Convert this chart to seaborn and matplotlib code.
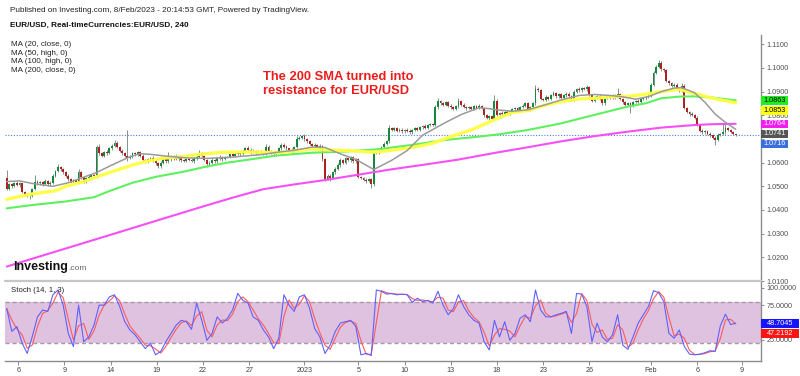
import numpy as np
import pandas as pd
import matplotlib
matplotlib.use("Agg")
import matplotlib.pyplot as plt
import seaborn as sns
from matplotlib.patches import Rectangle
from matplotlib.lines import Line2D
from matplotlib.transforms import blended_transform_factory

sns.set_theme(style="white")
plt.rcParams['font.family'] = ['Liberation Sans', 'DejaVu Sans']

# ---------------- data (prices in pips above 1.0000) ----------------
first_open = 534
close_pips = [
    490, 510, 500, 515, 505, 512, 478, 465, 460, 458,
    490, 520, 512, 518, 510, 522, 508, 515, 545, 565,
    580, 572, 560, 545, 530, 520, 525, 518, 560, 540,
    520, 535, 540, 548, 545, 665, 640, 630, 645, 640,
    660, 672, 685, 665, 650, 640, 630, 620, 625, 640,
    635, 645, 630, 610, 605, 615, 620, 608, 598, 585,
    600, 615, 605, 625, 615, 628, 615, 622, 610, 608,
    615, 612, 605, 618, 625, 640, 630, 610, 595, 600,
    612, 605, 618, 625, 615, 622, 625, 635, 630, 638,
    642, 635, 648, 660, 655, 645, 650, 640, 648, 642,
    638, 668, 650, 640, 635, 645, 660, 675, 668, 660,
    655, 648, 665, 700, 705, 712, 700, 690, 680, 670,
    675, 665, 670, 615, 532, 545, 535, 560, 575, 590,
    612, 600, 618, 610, 622, 605, 615, 540, 535, 528,
    522, 530, 508, 640, 645, 650, 665, 680, 690, 745,
    738, 745, 735, 740, 732, 740, 735, 728, 738, 745,
    740, 750, 755, 748, 758, 762, 760, 835, 860, 850,
    845, 855, 840, 835, 828, 838, 860, 845, 835, 830,
    835, 828, 838, 832, 840, 830, 800, 790, 795, 785,
    862, 800, 810, 805, 815, 808, 820, 825, 830, 822,
    835, 840, 850, 825, 835, 850, 912, 905, 870, 865,
    878, 870, 885, 895, 880, 890, 875, 885, 892, 880,
    866, 900, 912, 905, 915, 910, 918, 885, 862, 875,
    882, 870, 850, 872, 880, 875, 885, 878, 890, 868,
    855, 845, 850, 842, 855, 860, 858, 868, 872, 878,
    882, 930, 980, 1005, 1020, 995, 990, 945, 935, 925,
    930, 910, 905, 925, 830, 815, 805, 800, 790, 760,
    735, 728, 732, 722, 715, 705, 695, 718, 722, 728,
    745, 738, 728, 720, 716,
]
up_wick = [
    35, 6, 5, 4, 7, 5, 4, 3, 6, 4,
    5, 28, 6, 5, 4, 7, 5, 6, 8, 5,
    15, 6, 5, 4, 7, 5, 6, 4, 15, 6,
    5, 4, 6, 5, 4, 10, 12, 6, 5, 7,
    6, 5, 10, 8, 5, 6, 4, 108, 6, 7,
    5, 6, 4, 5, 6, 5, 4, 7, 5, 6,
    5, 6, 4, 22, 5, 6, 7, 5, 4, 6,
    5, 4, 6, 5, 7, 15, 5, 4, 6, 5,
    6, 5, 4, 7, 5, 6, 4, 5, 6, 5,
    4, 6, 5, 7, 11, 5, 6, 4, 5, 6,
    5, 9, 6, 5, 4, 6, 5, 10, 6, 5,
    4, 6, 5, 12, 6, 5, 7, 5, 6, 4,
    6, 5, 7, 6, 5, 6, 5, 6, 5, 7,
    6, 5, 7, 6, 5, 6, 5, 6, 5, 4,
    6, 5, 4, 10, 6, 5, 7, 6, 5, 15,
    6, 5, 7, 5, 6, 4, 5, 6, 5, 7,
    5, 6, 4, 7, 5, 6, 5, 10, 12, 6,
    5, 7, 5, 6, 4, 6, 15, 5, 6, 4,
    6, 5, 7, 5, 6, 5, 6, 5, 6, 5,
    25, 6, 5, 7, 5, 6, 4, 6, 5, 7,
    5, 6, 7, 5, 6, 5, 16, 8, 6, 5,
    7, 5, 6, 8, 5, 6, 5, 7, 6, 5,
    6, 7, 5, 6, 5, 6, 10, 5, 6, 7,
    5, 6, 5, 7, 5, 6, 5, 6, 24, 5,
    6, 5, 7, 5, 6, 5, 7, 5, 6, 5,
    6, 7, 8, 8, 14, 9, 6, 7, 5, 6,
    5, 6, 7, 10, 8, 6, 5, 7, 5, 6,
    5, 6, 7, 5, 6, 5, 6, 8, 5, 38,
    21, 6, 5, 4, 3,
]
dn_wick = [
    6, 5, 6, 4, 5, 6, 5, 7, 6, 10,
    4, 5, 6, 5, 7, 4, 6, 5, 4, 6,
    5, 6, 7, 5, 6, 5, 4, 6, 5, 7,
    6, 5, 4, 6, 5, 8, 6, 7, 5, 6,
    5, 6, 4, 5, 6, 7, 5, 15, 6, 5,
    6, 5, 7, 6, 5, 6, 7, 5, 6, 7,
    6, 5, 7, 5, 6, 4, 5, 6, 7, 5,
    6, 5, 4, 6, 5, 6, 7, 5, 15, 6,
    5, 6, 7, 5, 6, 5, 4, 6, 5, 7,
    5, 6, 4, 5, 6, 7, 5, 6, 5, 4,
    6, 5, 7, 5, 6, 5, 6, 5, 7, 6,
    5, 6, 4, 5, 6, 5, 7, 6, 5, 6,
    5, 6, 5, 7, 10, 6, 11, 5, 6, 5,
    7, 5, 6, 5, 6, 7, 5, 6, 5, 7,
    6, 5, 14, 6, 5, 7, 6, 5, 6, 5,
    6, 5, 7, 5, 6, 5, 7, 6, 5, 6,
    5, 6, 7, 5, 6, 5, 6, 5, 7, 6,
    5, 6, 5, 7, 6, 5, 6, 7, 5, 6,
    5, 7, 6, 5, 6, 5, 7, 6, 12, 6,
    6, 5, 7, 6, 5, 6, 5, 7, 6, 5,
    6, 5, 6, 7, 5, 6, 5, 6, 7, 5,
    6, 5, 7, 5, 6, 5, 6, 5, 7, 6,
    5, 6, 5, 7, 6, 5, 6, 5, 7, 6,
    5, 6, 7, 6, 5, 6, 5, 7, 6, 5,
    6, 5, 7, 33, 6, 5, 7, 6, 5, 6,
    5, 6, 7, 5, 6, 7, 5, 6, 7, 5,
    6, 5, 7, 6, 5, 6, 7, 5, 6, 5,
    6, 5, 7, 6, 5, 6, 20, 5, 6, 5,
    6, 5, 4, 5, 3,
]

# moving averages (candle index, pips above 1.0000)
ma20_idx = [0, 5, 10, 18, 24, 29, 35, 40, 44, 48, 52, 56, 62, 70, 78, 86, 93, 100, 106, 112,
            119, 124, 130, 136, 143, 150, 156, 162, 166, 171, 177, 184, 188, 191, 197, 203,
            210, 216, 223, 229, 236, 240, 245, 250, 255, 260, 263, 268, 272, 276, 280, 284]
ma20_val = [520, 523, 512, 500, 515, 535, 558, 585, 605, 625, 638, 635, 628, 620, 618, 622, 628, 635, 645, 652,
            666, 664, 637, 614, 571, 610, 651, 716, 740, 770, 803, 832, 828, 823, 817, 823,
            845, 865, 884, 888, 883, 878, 868, 879, 900, 915, 917, 895, 855, 805, 770, 741]
ma50_idx = [0, 5, 10, 19, 23, 30, 35, 43, 49, 55, 61, 69, 75, 83, 88, 95, 106, 119, 125, 134, 143,
            151, 158, 166, 173, 181, 186, 190, 197, 203, 210, 216, 223, 229, 236, 242, 249, 255,
            262, 268, 275, 284]
ma50_val = [445, 457, 468, 481, 500, 520, 540, 569, 590, 607, 619, 626, 635, 643, 645, 645, 642, 658, 654, 650, 644,
            654, 664, 682, 710, 738, 762, 781, 812, 820, 844, 858, 869, 872, 879, 880, 889, 900,
            910, 892, 872, 853]
ma100_idx = [0, 10, 23, 34, 40, 49, 58, 69, 78, 86, 95, 105, 119, 132, 145, 158, 171, 184, 192, 203,
             216, 229, 242, 249, 255, 262, 268, 275, 284]
ma100_val = [407, 421, 436, 454, 480, 515, 540, 562, 584, 600, 614, 630, 642, 647, 657, 675, 696, 710, 720, 738,
             766, 802, 837, 851, 872, 879, 880, 875, 863]
ma200_idx = [0, 12, 25, 38, 50, 62, 75, 88, 100, 112, 125, 138, 150, 163, 176, 190, 203, 216, 229, 242,
             255, 268, 276, 284]
ma200_val = [161, 201, 244, 287, 327, 367, 410, 452, 488, 508, 528, 551, 572, 592, 613, 641, 665, 690, 712, 731,
             748, 759, 763, 764]

# stochastic %K read every second candle
stoch_k = [70, 37, 44, 20, 5, 30, 58, 68, 66, 90, 97, 75, 34, 15, 75, 22, 29, 46, 75, 75,
           87, 90, 73, 51, 39, 32, 22, 12, 20, 3, 8, 22, 34, 46, 53, 51, 40, 78, 53, 24,
           34, 58, 49, 56, 68, 92, 82, 78, 58, 53, 39, 29, 12, 27, 90, 75, 66, 87, 90, 70,
           41, 29, 5, 17, 37, 49, 51, 53, 44, 3, 5, 2, 97, 95, 91, 92, 90, 91, 90, 79,
           85, 80, 82, 78, 95, 75, 61, 70, 90, 73, 61, 53, 49, 22, 10, 53, 29, 51, 24, 34,
           56, 61, 51, 97, 68, 58, 58, 61, 63, 66, 34, 92, 91, 73, 22, 49, 29, 22, 32, 61,
           17, 11, 29, 49, 61, 73, 96, 93, 80, 34, 27, 39, 15, 4, 3, 4, 6, 9, 8, 45,
           62, 47, 48.7]

tick_pos = [4.5, 22.5, 40.5, 58.5, 76.5, 94.5, 116, 137, 155, 173, 191, 209, 227, 251, 269, 286.5]
tick_lab = ['6', '9', '14', '19', '22', '27', '2023', '5', '10', '13', '18', '23', '26', 'Feb', '6', '9']

price_ticks = [1.01, 1.02, 1.03, 1.04, 1.05, 1.06, 1.07, 1.08, 1.09, 1.10, 1.11]
price_labels = [1.0863, 1.0853, 1.0764, 1.0741, 1.0716]
price_label_bg = ['#1fef1f', '#ffff10', '#f21ff2', '#555555', '#3b6fe0']
price_label_fg = ['black', 'black', 'white', 'white', 'white']
stoch_labels = [48.7045, 47.2192]
stoch_label_bg = ['#1414ff', '#ff1414']

# ---------------- derived ----------------
close = (10000 + np.array(close_pips, dtype=float)) / 10000
open_ = np.r_[(10000 + first_open) / 10000, close[:-1]]
top = np.maximum(open_, close)
bot = np.minimum(open_, close)
high = top + np.array(up_wick) / 10000
low = bot - np.array(dn_wick) / 10000
idx = np.arange(len(close))
is_up = close >= open_

W, H = 800, 376
fig = plt.figure(figsize=(W / 100, H / 100), dpi=100)
fig.patch.set_facecolor('white')

def fx(px):
    return px / W

def fy(py):
    return 1 - py / H

ax = fig.add_axes([fx(5), fy(281), fx(756), 246 / H])
ax2 = fig.add_axes([fx(5), fy(361), fx(756), 79 / H])
XL = (-0.66, 293.85)
PX_PER_PRICE = 2367.0
PX_PER_STOCH = 0.69

# ---------------- price panel ----------------
ax.set_facecolor('white')
ax.set_xlim(*XL)
ax.set_ylim(1.0100, 1.11393)

ax.axhline(close[-1], color='#4f7de8', lw=0.8, ls=(0, (1, 1.5)), zorder=1)

GREEN, RED = '#17873d', '#b02020'
ax.vlines(idx, low, high, colors='#7f9487', lw=0.7, zorder=2)
ax.bar(idx, np.maximum(top - bot, 0.00008), bottom=bot, width=0.72,
       color=np.where(is_up, GREEN, RED), linewidth=0, zorder=3)

def ma_line(i, v, color, lw, alpha=1.0):
    sns.lineplot(x=np.array(i), y=(10000 + np.array(v, dtype=float)) / 10000, ax=ax,
                 color=color, linewidth=lw, alpha=alpha, sort=False, zorder=4)

ma_line(ma200_idx, ma200_val, '#f550f5', 1.5)
ma_line(ma100_idx, ma100_val, '#5ef05e', 1.5)
ma_line(ma50_idx, ma50_val, '#ffff40', 2.4, 0.95)
ma_line(ma20_idx, ma20_val, '#9a9a9a', 1.1)

for s in ['top', 'left', 'bottom']:
    ax.spines[s].set_visible(False)
ax.spines['right'].set_color('#8c8c8c')
ax.spines['right'].set_linewidth(1.0)
ax.set_xticks([])
ax.yaxis.tick_right()
ax.set_yticks(price_ticks)
# the 1.0700 label sits behind the value boxes in the reference
ax.set_yticklabels(['' if abs(v - 1.07) < 1e-9 else f'{v:.4f}' for v in price_ticks])
ax.tick_params(axis='y', labelsize=5.2, labelcolor='#505050', color='#8c8c8c',
               length=2.5, width=0.7, pad=1.5)
ax.set_xlabel('')
ax.set_ylabel('')

def side_labels(a, values, bgs, fgs, px_per_unit, width_px, textsize, axw=756):
    trans = blended_transform_factory(a.transAxes, a.transData)
    h = 8.6 / px_per_unit
    gap = 10.0 / px_per_unit
    wf = width_px / axw
    prev = None
    for v, bg, fg in sorted(zip(values, bgs, fgs), key=lambda t: -t[0]):
        y = v if prev is None else min(v, prev - gap)
        prev = y
        a.add_patch(Rectangle((1.0, y - h / 2), wf, h, transform=trans,
                              facecolor=bg, edgecolor='none', clip_on=False, zorder=6))
        a.text(1.0 + wf / 2, y, f'{v:.4f}', transform=trans, ha='center',
               va='center', fontsize=textsize, color=fg, zorder=7, clip_on=False)

side_labels(ax, price_labels, price_label_bg, price_label_fg, PX_PER_PRICE, 27, 5.2)

# ---------------- stochastic panel ----------------
k = pd.Series(stoch_k, dtype=float)
d = k.rolling(2, min_periods=1).mean()
kx = 2 * np.arange(len(k))

ax2.set_facecolor('white')
ax2.set_xlim(*XL)
ax2.set_ylim(-5.94, 108.55)
ax2.axhspan(20, 80, color='#dfc2df', lw=0, zorder=0)
for lvl in (20, 80):
    ax2.axhline(lvl, color='#a898a8', lw=1.0, ls=(0, (3, 2)), zorder=1)
sns.lineplot(x=kx, y=d.values, ax=ax2, color='#ff5a5a', linewidth=0.8, sort=False, zorder=3)
sns.lineplot(x=kx, y=k.values, ax=ax2, color='#6060ff', linewidth=0.8, sort=False, zorder=4)

for s in ['top', 'left']:
    ax2.spines[s].set_visible(False)
for s in ['right', 'bottom']:
    ax2.spines[s].set_color('#8c8c8c')
    ax2.spines[s].set_linewidth(1.0)
ax2.yaxis.tick_right()
ax2.set_yticks([25, 75, 100])
ax2.set_yticklabels(['25.0000', '75.0000', '100.0000'])
ax2.tick_params(axis='y', labelsize=5.2, labelcolor='#505050', color='#8c8c8c',
                length=2.5, width=0.7, pad=1.5)
ax2.set_xticks(tick_pos)
ax2.set_xticklabels(tick_lab)
ax2.tick_params(axis='x', labelsize=5.2, labelcolor='#404040', color='#8c8c8c',
                length=3, width=0.7, pad=1.5, bottom=True)
ax2.set_xlabel('')
ax2.set_ylabel('')

side_labels(ax2, stoch_labels, stoch_label_bg, ['white', 'white'], PX_PER_STOCH, 38, 5.2)

# separator between panels
fig.add_artist(Line2D([fx(5), fx(761)], [fy(281), fy(281)], color='#c6c6c6', lw=1.6))

# ---------------- texts ----------------
fig.text(fx(10), fy(10), 'Published on Investing.com, 8/Feb/2023 - 20:14:53 GMT, Powered by TradingView.',
         fontsize=5.9, color='#222222', va='center', ha='left')
fig.text(fx(10), fy(25), 'EUR/USD, Real-timeCurrencies:EUR/USD, 240',
         fontsize=5.9, color='#111111', va='center', ha='left', fontweight='bold')
for j, s in enumerate(['MA (20, close, 0)', 'MA (50, high, 0)', 'MA (100, high, 0)', 'MA (200, close, 0)']):
    fig.text(fx(11), fy(44.3 + 8.8 * j), s, fontsize=5.8, color='#222222', va='center', ha='left')
fig.text(fx(263), fy(77), 'The 200 SMA turned into', fontsize=9.3, fontweight='bold',
         color='#ee1c1c', va='center', ha='left')
fig.text(fx(263), fy(91.5), 'resistance for EUR/USD', fontsize=9.3, fontweight='bold',
         color='#ee1c1c', va='center', ha='left')
fig.text(fx(13), fy(267), 'Investing', fontsize=9, fontweight='bold', color='#111111',
         va='center', ha='left')
fig.text(fx(68.5), fy(268.5), '.com', fontsize=6, color='#666666', va='center', ha='left')
fig.text(fx(11), fy(291), 'Stoch (14, 1, 3)', fontsize=5.6, color='#222222', va='center', ha='left')

fig.savefig('out.png', dpi=100, facecolor='white')
